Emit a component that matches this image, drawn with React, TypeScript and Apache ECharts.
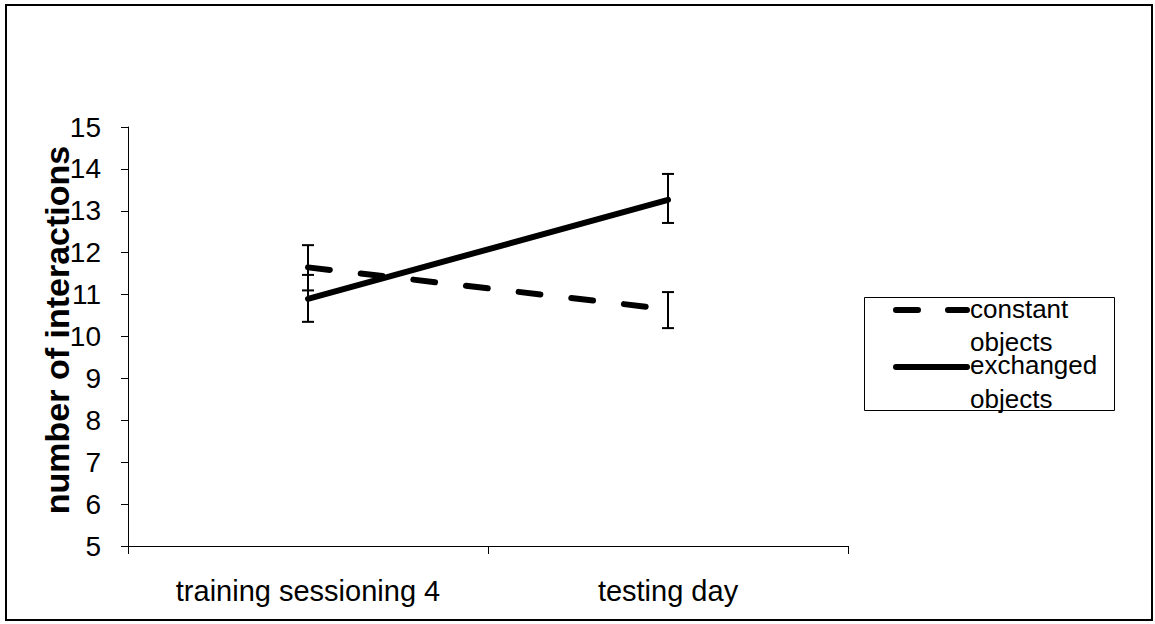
import React, { useEffect, useRef } from "react";
import * as echarts from "echarts";

const categories = ["training sessioning 4", "testing day"];
const constantMeans = [11.65, 10.65];
const constantLow = [11.1, 10.2];
const constantHigh = [12.18, 11.06];
const exchangedMeans = [10.9, 13.26];
const exchangedLow = [10.35, 12.71];
const exchangedHigh = [11.47, 13.88];
const yTicks = [5, 15, 1];
const yTitle = "number of interactions";
const legendLines = ["constant", "objects", "exchanged", "objects"];

export default function App() {
  const ref = useRef<HTMLDivElement>(null);
  useEffect(() => {
    const chart = echarts.init(ref.current!, null, { renderer: "svg" });
    const errData = (lo: number[], hi: number[]) => lo.map((l, i) => [i, l, hi[i]]);
    const errSeries = (name: string, lo: number[], hi: number[]) => ({
      type: "custom",
      name,
      data: errData(lo, hi),
      z: 5,
      renderItem: (params: any, api: any) => {
        const x = api.value(0);
        const a = api.coord([x, api.value(1)]);
        const b = api.coord([x, api.value(2)]);
        const hw = 6;
        const st = { stroke: "#000", lineWidth: 2 };
        return {
          type: "group",
          children: [
            { type: "line", shape: { x1: a[0], y1: a[1], x2: b[0], y2: b[1] }, style: st },
            { type: "line", shape: { x1: a[0] - hw, y1: a[1], x2: a[0] + hw, y2: a[1] }, style: st },
            { type: "line", shape: { x1: b[0] - hw, y1: b[1], x2: b[0] + hw, y2: b[1] }, style: st },
          ],
        };
      },
    });
    const font = "Liberation Sans, Arial, sans-serif";
    const legendY = [308.6, 341.6, 364.6, 398.6];
    chart.setOption({
      animation: false,
      backgroundColor: "#fff",
      grid: { left: 128, right: 307, top: 127, bottom: 78 },
      xAxis: {
        type: "category",
        data: categories,
        boundaryGap: true,
        axisLine: { lineStyle: { color: "#000", width: 1 } },
        axisTick: { show: true, length: 8, lineStyle: { color: "#000" } },
        axisLabel: { color: "#000", fontSize: 29, fontFamily: font, margin: 30 },
        splitLine: { show: false },
      },
      yAxis: {
        type: "value",
        min: yTicks[0],
        max: yTicks[1],
        interval: yTicks[2],
        axisLine: { show: true, lineStyle: { color: "#000", width: 1 } },
        axisTick: { show: true, length: 7, lineStyle: { color: "#000" } },
        axisLabel: { color: "#000", fontSize: 28, fontFamily: font, margin: 27 },
        splitLine: { show: false },
      },
      graphic: [
        {
          type: "rect",
          shape: { x: 6, y: 5, width: 1146, height: 615 },
          style: { fill: "none", stroke: "#000", lineWidth: 2 },
          z: 100,
        },
        {
          type: "text",
          x: 57,
          y: 330,
          rotation: Math.PI / 2,
          style: {
            text: yTitle,
            fill: "#000",
            fontSize: 34,
            fontWeight: "bold",
            fontFamily: font,
            align: "center",
            verticalAlign: "middle",
          },
          z: 60,
        },
        {
          type: "rect",
          shape: { x: 864.5, y: 297.5, width: 250, height: 113 },
          style: { fill: "#fff", stroke: "#000", lineWidth: 1 },
          z: 50,
        },
        {
          type: "line",
          shape: { x1: 896, y1: 310, x2: 967, y2: 310 },
          style: { stroke: "#000", lineWidth: 6, lineCap: "round", lineDash: [22, 30] },
          z: 51,
        },
        {
          type: "line",
          shape: { x1: 896, y1: 367, x2: 967, y2: 367 },
          style: { stroke: "#000", lineWidth: 6, lineCap: "round" },
          z: 51,
        },
        ...legendLines.map((t, i) => ({
          type: "text",
          x: 970,
          y: legendY[i],
          style: { text: t, fill: "#000", fontSize: 26, fontFamily: font, verticalAlign: "middle" },
          z: 52,
        })),
      ],
      series: [
        {
          type: "line",
          name: "constant objects",
          data: constantMeans,
          symbol: "none",
          z: 3,
          lineStyle: { color: "#000", width: 6, type: [22, 31], cap: "round" },
        },
        {
          type: "line",
          name: "exchanged objects",
          data: exchangedMeans,
          symbol: "none",
          z: 3,
          lineStyle: { color: "#000", width: 6, cap: "round" },
        },
        errSeries("constant err", constantLow, constantHigh),
        errSeries("exchanged err", exchangedLow, exchangedHigh),
      ],
    });
    return () => chart.dispose();
  }, []);
  return (
    <div
      ref={ref}
      style={{ position: "absolute", left: 0, top: 0, width: 1155, height: 624 }}
    />
  );
}
